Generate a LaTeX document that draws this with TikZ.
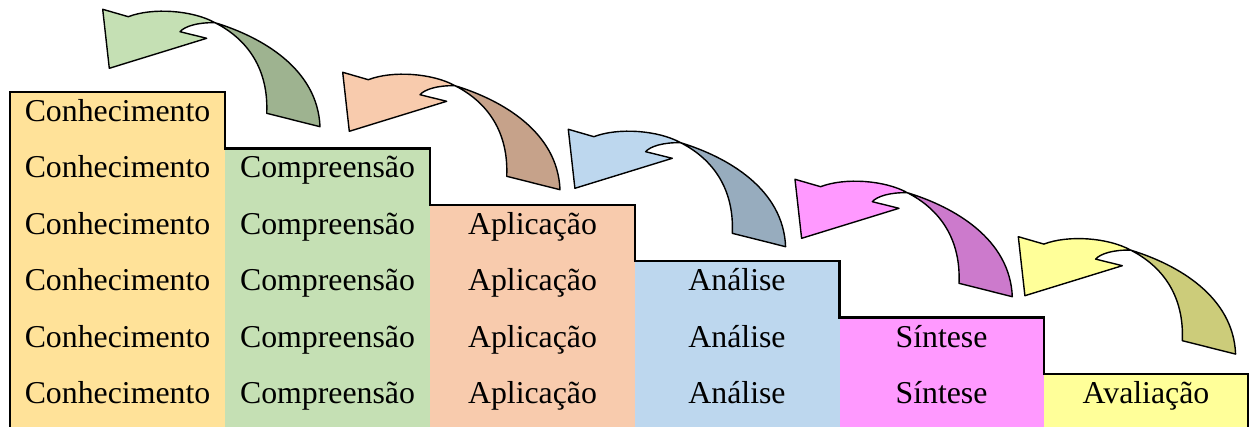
\documentclass[tikz,border=0pt]{standalone}
\usepackage{fontspec}
\setmainfont{Liberation Serif}
\definecolor{cK}{HTML}{FFE299}
\definecolor{cC}{HTML}{C5E0B4}
\definecolor{cA}{HTML}{F8CBAD}
\definecolor{cN}{HTML}{BDD7EE}
\definecolor{cS}{HTML}{FF99FF}
\definecolor{cV}{HTML}{FFFF99}
\tikzset{
  cell/.style={anchor=base, inner sep=0pt, font=\fontsize{31.8}{36}\selectfont},
  stairline/.style={draw=black, line width=2.4pt, line join=miter},
  arrowedge/.style={draw=black, line width=1.4pt, line join=round},
}
\begin{document}
\begin{tikzpicture}[x=1pt,y=-1pt]
\useasboundingbox (0,0) rectangle (1250,427);
% column fills
\fill[cK] (10,92) rectangle (225,427);
\fill[cC] (225,148.4) rectangle (430,427);
\fill[cA] (430,204.8) rectangle (635,427);
\fill[cN] (635,261.2) rectangle (839.5,427);
\fill[cS] (839.5,317.6) rectangle (1044,427);
\fill[cV] (1044,374) rectangle (1248,427);
% staircase outline
\draw[stairline] (10,428) -- (10,92) -- (225,92) -- (225,148.4) -- (430,148.4) -- (430,204.8)
  -- (635,204.8) -- (635,261.2) -- (839.5,261.2) -- (839.5,317.6) -- (1044,317.6)
  -- (1044,374) -- (1248,374) -- (1248,428);
% texts
\foreach \r in {1,...,6} {
  \node[cell] (k\r) at (117.5, {92+56.4*(\r-1)+29.5}) {Conhecimento};
}
\foreach \r in {2,...,6} {
  \node[cell] (c\r) at (327.5, {92+56.4*(\r-1)+29.5}) {Compreensão};
}
\foreach \r in {3,...,6} {
  \node[cell] (a\r) at (532.5, {92+56.4*(\r-1)+29.5}) {Aplicação};
}
\foreach \r in {4,...,6} {
  \node[cell] (n\r) at (737, {92+56.4*(\r-1)+29.5}) {Análise};
}
\foreach \r in {5,...,6} {
  \node[cell] (s\r) at (941.5, {92+56.4*(\r-1)+29.5}) {Síntese};
}
\node[cell] (v6) at (1146, {92+56.4*5+29.5}) {Avaliação};
% curved arrows
\foreach \px/\py/\col in {102.7/9.3/cC, 342.7/72.3/cA, 568.3/129.3/cN, 795/179.3/cS, 1018.3/236.7/cV} {
  \begin{scope}[shift={(\px,\py)}]
    \fill[\col!80!black] (112.3,13.4) .. controls (160,28) and (215,60) .. (217.3,117.4)
      -- (164,104) .. controls (166,60) and (145,30) .. (112.3,13.4) -- cycle;
    \draw[arrowedge] (112.3,13.4) .. controls (160,28) and (215,60) .. (217.3,117.4)
      -- (164,104) .. controls (166,60) and (145,30) .. (112.3,13.4);
    \filldraw[arrowedge, fill=\col] (0,0) -- (25.6,7.4) .. controls (50,-2) and (90,1) .. (112.3,13.4)
      .. controls (95,13) and (82,17) .. (77.3,22.4) -- (104,29) -- (6.6,59) -- cycle;
  \end{scope}
}
\end{tikzpicture}
\end{document}
